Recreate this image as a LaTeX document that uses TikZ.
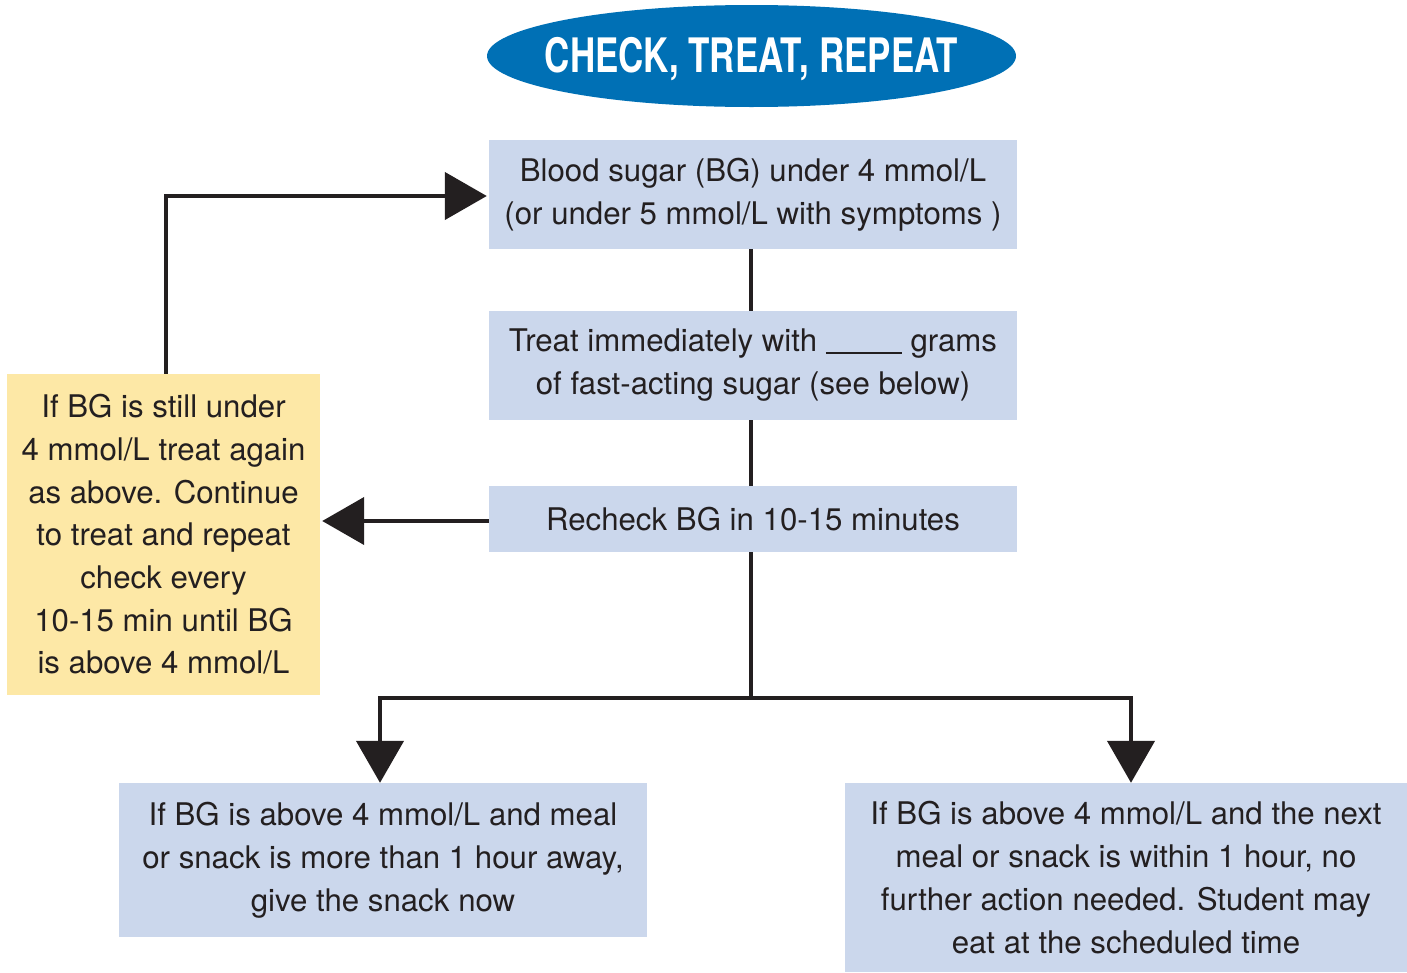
\documentclass[tikz,border=0pt]{standalone}
\usepackage{fontspec}
\setmainfont{TeX Gyre Heros}
\newfontfamily\titlefont{TeX Gyre Heros}[FakeStretch=0.735]
\usetikzlibrary{arrows.meta,shapes.geometric}
\definecolor{boxblue}{RGB}{203,215,236}
\definecolor{boxyellow}{RGB}{253,232,166}
\definecolor{titleblue}{RGB}{0,112,181}
\definecolor{ink}{RGB}{35,31,32}
\tikzset{
  bluebox/.style={fill=boxblue, draw=none, inner sep=0pt, align=center, text=ink,
    font=\fontsize{31.2}{43}\selectfont},
  yellowbox/.style={fill=boxyellow, draw=none, inner sep=0pt, align=center, text=ink,
    font=\fontsize{31.2}{42.7}\selectfont},
  conn/.style={draw=ink, line width=4.5pt},
  arr/.style={conn, -{Triangle[width=47pt,length=42pt]}},
}
\begin{document}
\begin{tikzpicture}[x=1pt,y=-1pt]
\useasboundingbox (0,0) rectangle (1407,972);
\node[ellipse, fill=titleblue, draw=none, minimum width=529pt, minimum height=102pt, inner sep=0pt] (title) at (751.5,56) {};
\node[text=white, inner sep=0pt, font=\titlefont\bfseries\fontsize{47.5}{50}\selectfont] (titletext) at ([yshift=-3pt]title.center) {CHECK, TREAT, REPEAT};
\node[bluebox, minimum width=528pt, minimum height=109pt] (b1) at (753,194.5)
  {Blood sugar (BG) under 4 mmol/L\\(or under 5 mmol/L with symptoms )};
\node[bluebox, minimum width=528pt, minimum height=109pt] (b2) at (753,365.5)
  {Treat immediately with \rule[-2pt]{76pt}{1.5pt} grams\\of fast-acting sugar (see below)};
\node[bluebox, minimum width=528pt, minimum height=66pt] (b3) at (753,519)
  {Recheck BG in 10-15 minutes};
\node[yellowbox, minimum width=313pt, minimum height=321pt] (yl) at (163.5,534.5)
  {If BG is still under\\4 mmol/L treat again\\as above. Continue\\to treat and repeat\\check every\\10-15 min until BG\\is above 4 mmol/L};
\node[bluebox, minimum width=528pt, minimum height=154pt] (bl) at (383,860)
  {If BG is above 4 mmol/L and meal\\or snack is more than 1 hour away,\\give the snack now};
\node[bluebox, minimum width=562pt, minimum height=189pt] (br) at (1126,877.5)
  {If BG is above 4 mmol/L and the next\\meal or snack is within 1 hour, no\\further action needed. Student may\\eat at the scheduled time};
\coordinate (j) at (751,698);
\draw[conn] ([xshift=-2pt]b1.south) -- ([xshift=-2pt]b2.north);
\draw[conn] ([xshift=-2pt]b2.south) -- ([xshift=-2pt]b3.north);
\draw[conn] ([xshift=-2pt]b3.south) -- (j);
\draw[arr, line join=miter] (j) -| ([xshift=-3pt]bl.north);
\draw[arr, line join=miter] (j) -| ([xshift=5pt]br.north);
\draw[arr] (b3.west |- 0,521) -- ([xshift=2pt]yl.east |- 0,521);
\draw[arr, line join=miter] ([xshift=2.5pt]yl.north) |- ([xshift=-2pt,yshift=-1.5pt]b1.west);
\end{tikzpicture}
\end{document}
